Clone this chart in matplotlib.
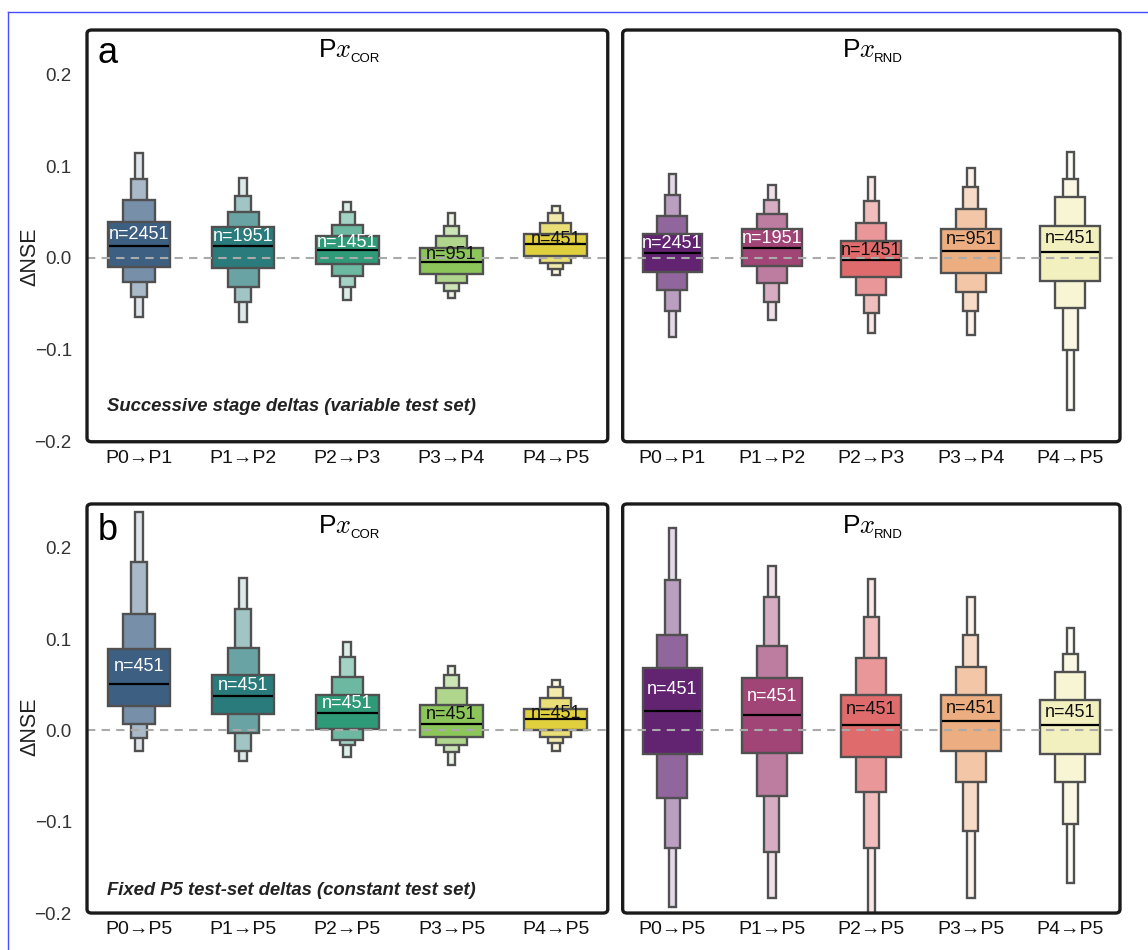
import numpy as np
import matplotlib.pyplot as plt
import matplotlib.transforms as mtransforms
from matplotlib.patches import FancyBboxPatch
from matplotlib.lines import Line2D
from matplotlib.colors import to_rgb

plt.rcParams['font.family'] = ['Liberation Sans', 'DejaVu Sans']
plt.rcParams['mathtext.fontset'] = 'cm'

succ_labels = ['P0→P1', 'P1→P2', 'P2→P3', 'P3→P4', 'P4→P5']
fixed_labels = ['P0→P5', 'P1→P5', 'P2→P5', 'P3→P5', 'P4→P5']
succ_n = [2451, 1951, 1451, 951, 451]
fixed_n = [451, 451, 451, 451, 451]

# letter values for each box:
# L4 low, L3 low, L2 low, Q1, median, Q3, L2 high, L3 high, L4 high
succ_cor = [
    [-0.064, -0.042, -0.026, -0.010, 0.013, 0.039, 0.063, 0.086, 0.114],
    [-0.070, -0.048, -0.032, -0.011, 0.013, 0.034, 0.050, 0.067, 0.087],
    [-0.046, -0.032, -0.020, -0.007, 0.009, 0.024, 0.036, 0.050, 0.061],
    [-0.044, -0.036, -0.027, -0.017, -0.004, 0.011, 0.024, 0.035, 0.049],
    [-0.019, -0.012, -0.005, 0.002, 0.015, 0.026, 0.038, 0.049, 0.057],
]
succ_rnd = [
    [-0.086, -0.058, -0.035, -0.015, 0.005, 0.026, 0.046, 0.068, 0.091],
    [-0.068, -0.048, -0.027, -0.009, 0.011, 0.031, 0.048, 0.063, 0.079],
    [-0.082, -0.060, -0.040, -0.021, -0.002, 0.018, 0.038, 0.062, 0.088],
    [-0.084, -0.058, -0.037, -0.016, 0.008, 0.032, 0.053, 0.077, 0.098],
    [-0.165, -0.100, -0.054, -0.025, 0.007, 0.035, 0.066, 0.086, 0.115],
]
fixed_cor = [
    [-0.022, -0.008, 0.007, 0.027, 0.051, 0.089, 0.127, 0.185, 0.239],
    [-0.034, -0.023, -0.003, 0.018, 0.038, 0.061, 0.090, 0.133, 0.167],
    [-0.029, -0.016, -0.011, 0.002, 0.019, 0.039, 0.059, 0.080, 0.097],
    [-0.038, -0.024, -0.016, -0.007, 0.007, 0.028, 0.047, 0.061, 0.071],
    [-0.022, -0.014, -0.007, 0.000, 0.013, 0.024, 0.036, 0.048, 0.055],
]
fixed_rnd = [
    [-0.193, -0.129, -0.074, -0.026, 0.021, 0.068, 0.104, 0.165, 0.222],
    [-0.183, -0.133, -0.072, -0.025, 0.017, 0.057, 0.092, 0.146, 0.180],
    [-0.220, -0.129, -0.067, -0.029, 0.006, 0.039, 0.079, 0.124, 0.166],
    [-0.183, -0.110, -0.056, -0.023, 0.010, 0.039, 0.069, 0.105, 0.146],
    [-0.167, -0.102, -0.057, -0.026, 0.006, 0.033, 0.064, 0.084, 0.112],
]

cor_colors = ['#3d5f82', '#2a7b7b', '#2e9a78', '#8cc55a', '#e0d03d']
rnd_colors = ['#622471', '#a14577', '#df6b6c', '#ecad80', '#f3f0c0']
level_mix = [0.0, 0.3, 0.56, 0.83]
base_width = 0.6


def lighten(c, t):
    r = np.array(to_rgb(c))
    return tuple(r + (1 - r) * t)


def draw_boxen(ax, lv, colors, counts, labels):
    lv = np.asarray(lv)
    x = np.arange(len(lv))
    for k in [3, 2, 1, 0]:
        lo = lv[:, 3 - k]
        hi = lv[:, 5 + k]
        fc = [lighten(c, level_mix[k]) for c in colors]
        ax.bar(x, hi - lo, bottom=lo, width=base_width / 2 ** k, color=fc,
               edgecolor='#505050', linewidth=1.7, zorder=2 + (3 - k) * 0.1)
    half = base_width / 2 - 0.01
    ax.hlines(lv[:, 4], x - half, x + half, color='black', lw=1.6, zorder=3)
    ax.axhline(0, color='#aaaaaa', lw=1.5, ls=(0, (4, 3)), zorder=4)
    for i in range(len(lv)):
        r, g, b = to_rgb(colors[i])
        lum = 0.299 * r + 0.587 * g + 0.114 * b
        tc = 'white' if lum < 0.5 else '#111111'
        ax.text(x[i], (lv[i, 4] + lv[i, 5]) / 2, 'n=%d' % counts[i],
                ha='center', va='center', fontsize=13, color=tc, zorder=6)
    ax.set_xlim(-0.5, 4.5)
    ax.set_ylim(-0.2, 0.248)
    ax.set_xticks(x)
    ax.set_xticklabels(labels)
    ax.set_yticks([-0.2, -0.1, 0.0, 0.1, 0.2])
    ax.tick_params(axis='x', length=0, labelsize=14, pad=6, labelcolor='#111111')
    ax.tick_params(axis='y', length=0, labelsize=13.5, pad=11, labelcolor='#333333')
    for s in ax.spines.values():
        s.set_visible(False)
    frame = FancyBboxPatch((0, 0), 1, 1, boxstyle='round,pad=0,rounding_size=0.009',
                           transform=ax.transAxes, fill=False, ec='#1a1a1a',
                           lw=2.4, clip_on=False, zorder=10)
    ax.add_patch(frame)


def panel_title(ax, fig, sub, y):
    tr = mtransforms.offset_copy(ax.transAxes, fig=fig, x=-9, y=0, units='points')
    t = ax.text(0.5, y, r'P$x$', transform=tr, ha='center', va='center', fontsize=19)
    ax.annotate(sub, xy=(1, 0), xycoords=t, xytext=(-1, -2), textcoords='offset points',
                ha='left', va='bottom', fontsize=9.5)


fig = plt.figure(figsize=(11.48, 9.5), dpi=100)

ax_a1 = fig.add_axes([0.0758, 0.535, 0.4536, 0.4334])
ax_a2 = fig.add_axes([0.5424, 0.535, 0.4332, 0.4334])
ax_b1 = fig.add_axes([0.0758, 0.0389, 0.4536, 0.4306])
ax_b2 = fig.add_axes([0.5424, 0.0389, 0.4332, 0.4306])

draw_boxen(ax_a1, succ_cor, cor_colors, succ_n, succ_labels)
draw_boxen(ax_a2, succ_rnd, rnd_colors, succ_n, succ_labels)
draw_boxen(ax_b1, fixed_cor, cor_colors, fixed_n, fixed_labels)
draw_boxen(ax_b2, fixed_rnd, rnd_colors, fixed_n, fixed_labels)

for ax in [ax_a2, ax_b2]:
    ax.tick_params(axis='y', labelleft=False)

for ax, yl in [(ax_a1, 0.45), (ax_b1, 0.455)]:
    ax.set_ylabel('ΔNSE', fontsize=15.5, color='#222222')
    ax.yaxis.set_label_coords(-0.09, yl)

panel_title(ax_a1, fig, 'COR', 0.952)
panel_title(ax_a2, fig, 'RND', 0.952)
panel_title(ax_b1, fig, 'COR', 0.945)
panel_title(ax_b2, fig, 'RND', 0.945)

ax_a1.text(0.021, 0.944, 'a', transform=ax_a1.transAxes, fontsize=26, ha='left', va='center')
ax_b1.text(0.021, 0.936, 'b', transform=ax_b1.transAxes, fontsize=26, ha='left', va='center')

ax_a1.text(0.038, 0.085, 'Successive stage deltas (variable test set)', transform=ax_a1.transAxes,
           fontsize=13.3, fontweight='bold', fontstyle='italic', color='#222222', va='center')
ax_b1.text(0.038, 0.055, 'Fixed P5 test-set deltas (constant test set)', transform=ax_b1.transAxes,
           fontsize=13.3, fontweight='bold', fontstyle='italic', color='#222222', va='center')

# thin blue border of the original export
fig.add_artist(Line2D([8 / 1148, 1], [1 - 12 / 950, 1 - 12 / 950], color='#4a4aff', lw=1))
fig.add_artist(Line2D([8 / 1148, 8 / 1148], [0, 1 - 12 / 950], color='#4a4aff', lw=1))

fig.savefig('out.png', dpi=100)
